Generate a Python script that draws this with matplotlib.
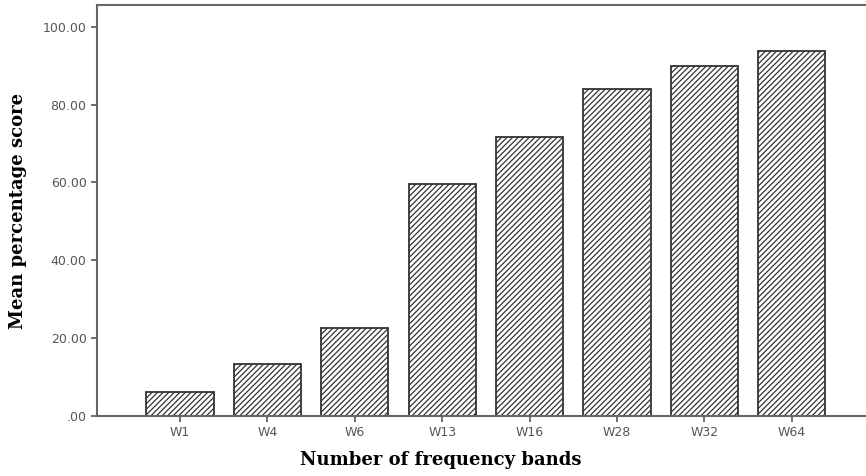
import matplotlib.pyplot as plt

# ── Data ───────────────────────────────────────────────────────────────────────
bands  = ["W1", "W4", "W6", "W13", "W16", "W28", "W32", "W64"]
scores = [6.2, 13.4, 22.6, 59.6, 71.7, 84.0, 90.0, 93.8]
yticks = [0, 20, 40, 60, 80, 100]
ytick_labels = [".00", "20.00", "40.00", "60.00", "80.00", "100.00"]

# ── Plot ───────────────────────────────────────────────────────────────────────
plt.rcParams['hatch.linewidth'] = 0.9
plt.rcParams['hatch.color'] = '#555555'

fig = plt.figure(figsize=(8.66, 4.76), dpi=100)
ax = fig.add_axes([0.112, 0.126, 0.888, 0.8635])

x = range(len(bands))
ax.bar(x, scores, width=0.77, color='white', edgecolor='#333333',
       linewidth=1.3, hatch='//////')

ax.set_xlim(-0.95, 7.85)
ax.set_ylim(0, 105.6)
ax.set_xticks(list(x))
ax.set_xticklabels(bands, fontsize=9, color='#555555', family='DejaVu Sans')
ax.set_yticks(yticks)
ax.set_yticklabels(ytick_labels, fontsize=9, color='#555555', family='DejaVu Sans')
ax.tick_params(axis='both', length=4, width=1.2, color='#555555')

for side in ['left', 'bottom', 'top']:
    ax.spines[side].set_color('#666666')
    ax.spines[side].set_linewidth(1.5)
ax.spines['right'].set_visible(False)

ax.set_ylabel("Mean percentage score", fontsize=13, fontweight='bold',
              family='DejaVu Serif', labelpad=11)
ax.set_xlabel("Number of frequency bands", fontsize=13, fontweight='bold',
              family='DejaVu Serif', labelpad=6)
ax.xaxis.set_label_coords(0.447, -0.085)

fig.savefig("out.png", dpi=100)
